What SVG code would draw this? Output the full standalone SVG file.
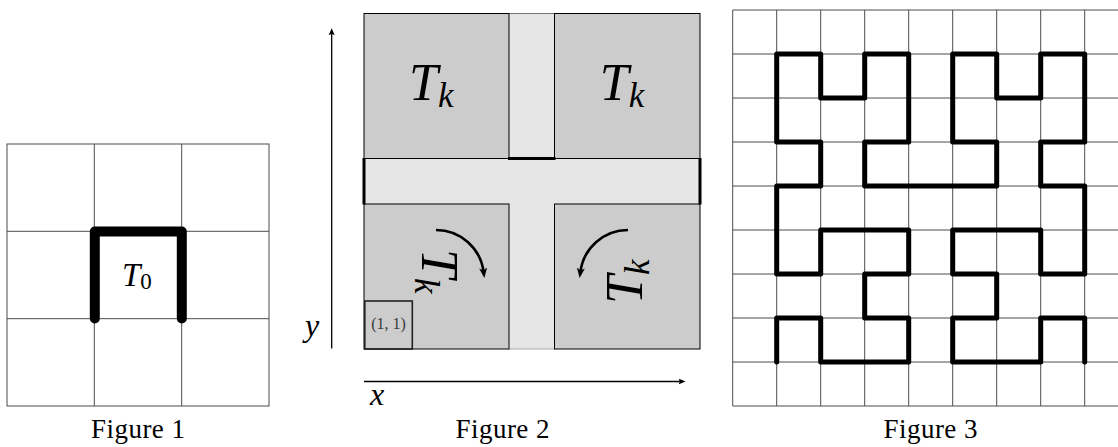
<svg xmlns="http://www.w3.org/2000/svg" width="1118" height="447" viewBox="0 0 1118 447">
<style>
.grid{stroke:#4d4d4d;stroke-width:1;fill:none}
.curve{stroke:#000;fill:none;stroke-linecap:round;stroke-linejoin:round}
.mi{font-family:"Liberation Serif","Times New Roman",serif;font-style:italic;fill:#000}
.rm{font-family:"Liberation Serif","Times New Roman",serif;font-style:normal;fill:#000}
.cap{font-family:"Liberation Serif","Times New Roman",serif;font-size:27px;fill:#000;text-anchor:middle}
.block{fill:#cccccc;stroke:#000;stroke-width:1}
.strip{fill:#e6e6e6;stroke:none}
.thick{stroke:#000;stroke-width:3;fill:none}
.axis{stroke:#000;stroke-width:1.3;fill:none}
.rot{stroke:#000;stroke-width:2.6;fill:none}
</style>
<defs>
<marker id="head" viewBox="0 0 10 8" refX="4" refY="4" markerWidth="10" markerHeight="8" markerUnits="userSpaceOnUse" orient="auto">
<path d="M0,0 L10,4 L0,8 L2.5,4 Z" fill="#000"/>
</marker>
<marker id="axhead" viewBox="0 0 7 6" refX="1.5" refY="3" markerWidth="7" markerHeight="6" markerUnits="userSpaceOnUse" orient="auto">
<path d="M0,0 L7,3 L0,6 L1.5,3 Z" fill="#000"/>
</marker>
</defs>

<!-- Figure 1 -->
<g id="fig1">
<rect class="grid" x="7" y="144" width="262" height="262"/>
<path class="grid" d="M94.3,144 V406 M181.7,144 V406 M7,231.3 H269 M7,318.7 H269"/>
<path class="curve" stroke-width="10" d="M94.8,318.5 L94.8,231.5 L181.8,231.5 L181.8,318.5"/>
<text class="mi" x="122" y="286" font-size="33">T<tspan class="rm" font-size="23" dy="3">0</tspan></text>
<text class="cap" x="138" y="438" textLength="94" lengthAdjust="spacing">Figure 1</text>
</g>

<!-- Figure 2 -->
<g id="fig2">
<rect class="strip" x="509" y="13.5" width="45.5" height="335.5"/>
<rect class="strip" x="364" y="158.5" width="336" height="45.5"/>
<path d="M509,13.5 H554.5" stroke="#777" stroke-width="1"/>
<path d="M509,349 H554.5" stroke="#aaa" stroke-width="1"/>
<g id="tl"><rect class="block" x="364" y="13.5" width="145" height="145"/>
<text class="mi" x="409" y="100" font-size="52">T<tspan font-size="35" dy="7">k</tspan></text></g>
<g id="tr"><rect class="block" x="554.5" y="13.5" width="145.5" height="145"/>
<text class="mi" x="599.75" y="100" font-size="52">T<tspan font-size="35" dy="7">k</tspan></text></g>
<g id="bl"><rect class="block" x="364" y="204" width="145" height="145"/>
<text class="mi" x="409" y="290.75" font-size="52" transform="rotate(90 436.5 276.5)">T<tspan font-size="35" dy="7">k</tspan></text></g>
<g id="br"><rect class="block" x="554.5" y="204" width="145.5" height="145"/>
<text class="mi" x="599.75" y="290.75" font-size="52" transform="rotate(-90 627.25 276.5)">T<tspan font-size="35" dy="7">k</tspan></text></g>
<path class="thick" d="M508,158.5 H555.5"/>
<path class="thick" d="M364,158 V204.5 M700,158 V204.5"/>
<g id="cell11"><rect x="364.8" y="301" width="47.5" height="48" fill="none" stroke="#222" stroke-width="1.6"/>
<text class="rm" x="388.5" y="329" font-size="16" text-anchor="middle" style="fill:#3a3a3a">(1, 1)</text></g>
<g id="connectors">
<path class="rot" d="M436,230 A48,48 0 0 1 483.6,272" marker-end="url(#head)"/>
<path class="rot" d="M628,230 A48,48 0 0 0 580.4,272" marker-end="url(#head)"/>
<path class="axis" d="M331.7,348.5 V33.8" marker-end="url(#axhead)"/>
<path class="axis" d="M364,381.5 H680" marker-end="url(#axhead)"/>
</g>
<text class="mi" x="305" y="336" font-size="32">y</text>
<text class="mi" x="370" y="405" font-size="32">x</text>
<text class="cap" x="502.5" y="438" textLength="94" lengthAdjust="spacing">Figure 2</text>
</g>

<!-- Figure 3 -->
<g id="fig3">
<path class="grid" d="M732.7,10 V406 M776.7,10 V406 M820.7,10 V406 M864.7,10 V406 M908.7,10 V406 M952.7,10 V406 M996.7,10 V406 M1040.7,10 V406 M1084.7,10 V406 M1128.7,10 V406
M732.7,10 H1128.7 M732.7,54 H1128.7 M732.7,98 H1128.7 M732.7,142 H1128.7 M732.7,186 H1128.7 M732.7,230 H1128.7 M732.7,274 H1128.7 M732.7,318 H1128.7 M732.7,362 H1128.7 M732.7,406 H1128.7"/>
<path class="curve" stroke-width="5" d="M776.7,362 L776.7,318 L820.7,318 L820.7,362 L908.7,362 L908.7,318 L864.7,318 L864.7,274 L908.7,274 L908.7,230 L820.7,230 L820.7,274 L776.7,274 L776.7,186 L820.7,186 L820.7,142 L776.7,142 L776.7,54 L820.7,54 L820.7,98 L864.7,98 L864.7,54 L908.7,54 L908.7,142 L864.7,142 L864.7,186 L996.7,186 L996.7,142 L952.7,142 L952.7,54 L996.7,54 L996.7,98 L1040.7,98 L1040.7,54 L1084.7,54 L1084.7,142 L1040.7,142 L1040.7,186 L1084.7,186 L1084.7,274 L1040.7,274 L1040.7,230 L952.7,230 L952.7,274 L996.7,274 L996.7,318 L952.7,318 L952.7,362 L1040.7,362 L1040.7,318 L1084.7,318 L1084.7,362"/>
<text class="cap" x="930.5" y="438" textLength="94" lengthAdjust="spacing">Figure 3</text>
</g>
</svg>
